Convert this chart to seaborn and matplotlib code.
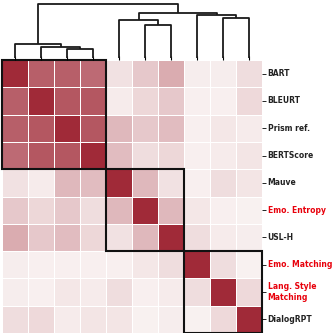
import numpy as np
import pandas as pd
import seaborn as sns
import matplotlib.pyplot as plt
from matplotlib.colors import LinearSegmentedColormap
from matplotlib.patches import Rectangle

metrics = ["BART", "BLEURT", "Prism ref.", "BERTScore", "Mauve", "Emo. Entropy",
           "USL-H", "Emo. Matching", "Lang. Style\nMatching", "DialogRPT"]
highlight = ["Emo. Entropy", "Emo. Matching", "Lang. Style\nMatching"]

corr = [
    [1.00, 0.74, 0.74, 0.68, 0.10, 0.22, 0.36, 0.04, 0.04, 0.12],
    [0.74, 1.00, 0.78, 0.78, 0.05, 0.15, 0.22, 0.03, 0.03, 0.14],
    [0.74, 0.78, 1.00, 0.78, 0.30, 0.22, 0.28, 0.03, 0.07, 0.05],
    [0.68, 0.78, 0.78, 1.00, 0.28, 0.12, 0.15, 0.03, 0.05, 0.08],
    [0.10, 0.05, 0.30, 0.28, 1.00, 0.30, 0.10, 0.03, 0.12, 0.08],
    [0.22, 0.15, 0.22, 0.12, 0.30, 1.00, 0.30, 0.07, 0.03, 0.02],
    [0.36, 0.22, 0.28, 0.15, 0.10, 0.30, 1.00, 0.12, 0.05, 0.04],
    [0.04, 0.03, 0.03, 0.03, 0.03, 0.07, 0.12, 1.00, 0.12, 0.02],
    [0.04, 0.03, 0.07, 0.05, 0.12, 0.03, 0.05, 0.12, 1.00, 0.14],
    [0.12, 0.14, 0.05, 0.08, 0.08, 0.02, 0.04, 0.02, 0.14, 1.00],
]

# linkage: (left child, right child, height), scipy-style ids
merges = [
    (2, 3, 0.17), (1, 10, 0.20), (0, 11, 0.26),
    (5, 6, 0.61), (4, 13, 0.70), (8, 9, 0.74), (7, 15, 0.80),
    (14, 16, 0.83), (12, 17, 1.00),
]

# cluster boxes: (start, size)
boxes = [(0, 4), (4, 3), (7, 3)]

df = pd.DataFrame(corr, index=metrics, columns=metrics)
cmap = LinearSegmentedColormap.from_list("reds", ["#faf5f4", "#a02a38"], N=256)

fig = plt.figure(figsize=(3.32, 3.33), dpi=100)
ax = fig.add_axes([2/332, 0, 260/332, 273/333])
dax = fig.add_axes([2/332, 275/333, 260/332, 58/333])

sns.heatmap(df, ax=ax, cmap=cmap, vmin=0, vmax=1, cbar=False,
            linewidths=0.6, linecolor="white", square=False)

ax.xaxis.tick_top()
ax.set_xticklabels([])
ax.tick_params(axis="x", length=3, width=0.8, pad=0)
ax.yaxis.tick_right()
ax.tick_params(axis="y", length=3, width=0.6, pad=1, rotation=0)
ax.set_yticklabels(metrics, fontsize=5.5, fontweight="bold", va="center")
for lab in ax.get_yticklabels():
    lab.set_color("#e8000b" if lab.get_text() in highlight else "#222222")
ax.set_xlabel("")
ax.set_ylabel("")

for start, size in boxes:
    ax.add_patch(Rectangle((start, start), size, size, fill=False,
                           edgecolor="#111111", lw=1.5, clip_on=False))

# dendrogram
pos = {i: i + 0.5 for i in range(len(metrics))}
hgt = {i: 0.0 for i in range(len(metrics))}
for k, (a, b, h) in enumerate(merges):
    nid = len(metrics) + k
    dax.plot([pos[a], pos[a], pos[b], pos[b]], [hgt[a], h, h, hgt[b]],
             color="#1a1a1a", lw=1.3, solid_capstyle="butt")
    pos[nid] = (pos[a] + pos[b]) / 2
    hgt[nid] = h
dax.set_xlim(0, len(metrics))
dax.set_ylim(0, 1.0 * 58 / 54)
dax.axis("off")

plt.savefig("out.png", dpi=100)
